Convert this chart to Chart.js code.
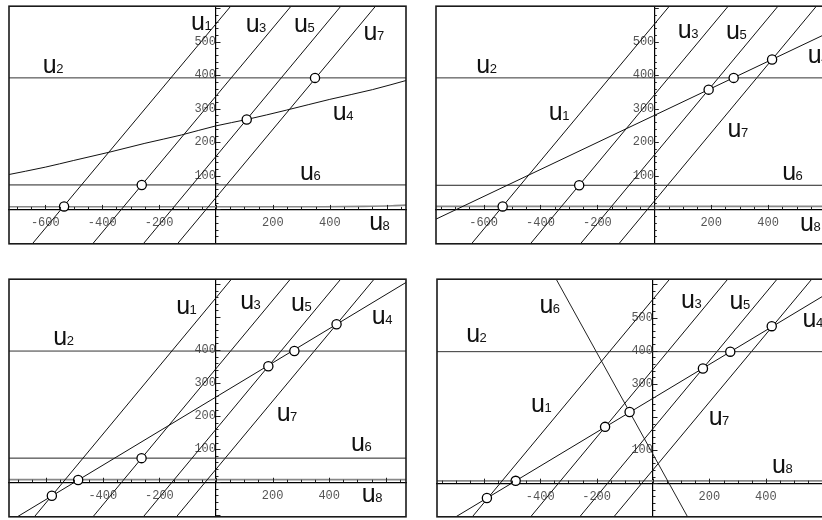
<!DOCTYPE html>
<html>
<head>
<meta charset="utf-8">
<script src="https://cdn.jsdelivr.net/npm/chart.js@4.4.1/dist/chart.umd.min.js"></script>
<style>
  html, body { margin: 0; padding: 0; background: #fff; width: 822px; height: 520px; overflow: hidden; position: relative; }
  canvas { position: absolute; }
</style>
</head>
<body>
<canvas id="pTL" width="417" height="260" style="left:-1px;top:-5px"></canvas>
<canvas id="pTR" width="417" height="260" style="left:426px;top:-5px"></canvas>
<canvas id="pBL" width="417" height="260" style="left:-1px;top:268px"></canvas>
<canvas id="pBR" width="417" height="260" style="left:427px;top:268px"></canvas>
<script>
// ---- top-left panel: (u8, u_i) lines, u4 slightly curved ----
const tl_u1 = [[-653, -110], [56, 610]];
const tl_u2 = [[-800, 392], [800, 392]];
const tl_u3 = [[-441, -110], [268, 610]];
const tl_u4 = [[-740, 102], [-600, 126], [-500, 146], [-373, 171], [-250, 197], [-121, 222], [0, 249], [108, 268], [248, 296], [400, 328], [550, 357], [680, 387]];
const tl_u5 = [[-263, -110], [443, 610]];
const tl_u6 = [[-800, 73], [800, 73]];
const tl_u7 = [[-143, -110], [565, 610]];
const tl_u8 = [[-800, 8], [380, 8], [520, 9], [620, 11], [700, 14]];
const tl_nodes = [[-534, 9], [-261, 73], [108, 268], [348, 392]];
const tl_xTickLabels = [-600, -400, -200, 200, 400];
const tl_yTickLabels = [100, 200, 300, 400, 500];

// ---- top-right panel ----
const tr_u1 = [[-650, -110], [57, 610]];
const tr_u2 = [[-800, 392], [800, 392]];
const tr_u3 = [[-443, -110], [264, 610]];
const tr_u4 = [[-775, -32], [650, 542]];
const tr_u5 = [[-267, -110], [439, 610]];
const tr_u6 = [[-800, 72], [800, 72]];
const tr_u7 = [[-132, -110], [574, 610]];
const tr_u8 = [[-800, 9], [800, 9]];
const tr_nodes = [[-533, 9], [-264, 72], [191, 357], [279, 392], [414, 447]];
const tr_xTickLabels = [-600, -400, -200, 200, 400];
const tr_yTickLabels = [100, 200, 300, 400, 500];

// ---- bottom-left panel ----
const bl_u1 = [[-652, -115], [60, 620]];
const bl_u2 = [[-800, 397], [800, 397]];
const bl_u3 = [[-445, -115], [268, 620]];
const bl_u4 = [[-740, -124], [680, 609]];
const bl_u5 = [[-267, -115], [446, 620]];
const bl_u6 = [[-800, 73], [800, 73]];
const bl_u7 = [[-150, -115], [564, 620]];
const bl_u8 = [[-800, 8], [800, 8]];
const bl_nodes = [[-580, -41], [-487, 7], [-263, 73], [185, 351], [277, 397], [426, 478]];
const bl_xTickLabels = [-400, -200, 200, 400];
const bl_yTickLabels = [100, 200, 300, 400];

// ---- bottom-right panel: u6 now falls steeply ----
const br_u1 = [[-649, -110], [63, 620]];
const br_u2 = [[-800, 397], [800, 397]];
const br_u3 = [[-442, -110], [269, 620]];
const br_u4 = [[-780, -143], [650, 589]];
const br_u5 = [[-268, -110], [444, 620]];
const br_u6 = [[-346, 620], [128, -110]];
const br_u7 = [[-147, -110], [567, 620]];
const br_u8 = [[-800, 7], [800, 7]];
const br_nodes = [[-589, -45], [-487, 7], [-170, 170], [-83, 215], [177, 346], [274, 397], [421, 474]];
const br_xTickLabels = [-400, -200, 200, 400];
const br_yTickLabels = [100, 300, 400, 500];

// where each variable name is written, in data units (left of "u", on its baseline)
const tl_nameSpots = [['1', -82, 534], ['3', 110, 530], ['5', 280, 530], ['7', 524, 504], ['2', -603, 408], ['4', 416, 266], ['6', 301, 89], ['8', 544, -61]];
const tr_nameSpots = [['3', 88, 510], ['5', 258, 507], ['4', 545, 435], ['2', -620, 406], ['1', -365, 266], ['7', 263, 217], ['6', 455, 89], ['8', 518, -63]];
const bl_nameSpots = [['1', -135, 508], ['3', 91, 523], ['5', 271, 518], ['4', 556, 478], ['2', -569, 416], ['7', 220, 184], ['6', 483, 96], ['8', 521, -61]];
const br_nameSpots = [['6', -397, 515], ['3', 105, 530], ['5', 277, 525], ['4', 536, 470], ['2', -657, 425], ['1', -427, 216], ['7', 203, 176], ['8', 428, 32]];

const toXY = pts => pts.map(([x, y]) => ({x, y}));

// axis ticks, variable names and the surrounding frame
const panelDecor = {
  id: 'panelDecor',
  afterDraw(chart, args, opts) {
    const {ctx, chartArea: a} = chart;
    const xs = chart.scales.x, ys = chart.scales.y;
    const x0 = xs.getPixelForValue(0), y0 = ys.getPixelForValue(0);
    ctx.save();
    ctx.beginPath();
    ctx.rect(a.left, a.top, a.width, a.height);
    ctx.clip();
    ctx.strokeStyle = '#222';
    ctx.lineWidth = 1;
    ctx.beginPath();
    for (const t of xs.ticks) {
      const v = t.value;
      if (v % 50 !== 0) continue;
      const len = v % 200 === 0 ? 4.5 : 2.5;
      const px = Math.round(xs.getPixelForValue(v)) + 0.5;
      ctx.moveTo(px, y0);
      ctx.lineTo(px, y0 - len);
    }
    for (const t of ys.ticks) {
      const v = t.value;
      if (v % 20 !== 0) continue;
      const len = v % 100 === 0 ? 4.5 : 2.5;
      const py = Math.round(ys.getPixelForValue(v)) + 0.5;
      ctx.moveTo(x0, py);
      ctx.lineTo(x0 + len, py);
    }
    ctx.stroke();

    ctx.fillStyle = '#111';
    ctx.textBaseline = 'alphabetic';
    for (const [sub, vx, vy] of opts.names) {
      const px = xs.getPixelForValue(vx) - 1.6;
      const py = ys.getPixelForValue(vy);
      ctx.font = '25px "Liberation Sans", Arial, sans-serif';
      ctx.fillText('u', px, py);
      const w = ctx.measureText('u').width;
      ctx.font = '13px "Liberation Sans", Arial, sans-serif';
      ctx.fillText(sub, px + w - 0.5, py);
    }
    ctx.restore();

    ctx.save();
    ctx.strokeStyle = '#1a1a1a';
    ctx.lineWidth = 1.6;
    ctx.strokeRect(a.left, a.top, a.width, a.height);
    ctx.restore();
  }
};

function lineSet(pts, color, width, curved) {
  return {
    data: toXY(pts), showLine: true, pointRadius: 0, pointHoverRadius: 0,
    borderColor: color, borderWidth: width, fill: false,
    tension: curved ? 0.4 : 0, cubicInterpolationMode: curved ? 'monotone' : 'default', order: 2
  };
}

function tickFont() { return {family: '"Liberation Mono", "DejaVu Sans Mono", monospace', size: 12}; }

function buildPanel(id, p) {
  const datasets = [
    {data: toXY(p.nodes), showLine: false, pointRadius: 4.6, pointHoverRadius: 4.6,
     pointBackgroundColor: '#fff', pointBorderColor: '#000', pointBorderWidth: 1.3, order: 0},
    lineSet(p.u1, '#111', 1, false),
    lineSet(p.u2, '#333', 1, false),
    lineSet(p.u3, '#111', 1, false),
    lineSet(p.u4, '#111', 1, p.u4.length > 2),
    lineSet(p.u5, '#111', 1, false),
    lineSet(p.u6, '#222', 1, false),
    lineSet(p.u7, '#111', 1, false),
    lineSet(p.u8, '#888', 1.6, p.u8.length > 2)
  ];
  return new Chart(document.getElementById(id), {
    type: 'scatter',
    data: {datasets},
    plugins: [panelDecor],
    options: {
      responsive: false, animation: false, devicePixelRatio: 1,
      layout: {padding: 10},
      events: [],
      plugins: {legend: {display: false}, tooltip: {enabled: false}, panelDecor: {names: p.names}},
      scales: {
        x: {
          type: 'linear', min: p.xr[0], max: p.xr[1], position: {y: 0},
          grid: {display: true, drawOnChartArea: false, drawTicks: false},
          border: {display: true, color: '#000', width: 1.2},
          ticks: {stepSize: 50, autoSkip: false, maxRotation: 0, includeBounds: false, padding: 6,
                  color: '#555', font: tickFont(),
                  callback: v => p.xl.includes(v) ? String(v) : ''}
        },
        y: {
          type: 'linear', min: p.yr[0], max: p.yr[1], position: {x: 0},
          grid: {display: true, drawOnChartArea: false, drawTicks: false},
          border: {display: true, color: '#000', width: 1.2},
          ticks: {stepSize: 20, autoSkip: false, includeBounds: false, padding: 4,
                  color: '#555', font: tickFont(),
                  callback: v => p.yl.includes(v) ? String(v) : ''}
        }
      }
    }
  });
}

buildPanel('pTL', {u1: tl_u1, u2: tl_u2, u3: tl_u3, u4: tl_u4, u5: tl_u5, u6: tl_u6, u7: tl_u7, u8: tl_u8,
  nodes: tl_nodes, xl: tl_xTickLabels, yl: tl_yTickLabels, names: tl_nameSpots, xr: [-727.6, 667.8], yr: [-102.4, 605.6]});
buildPanel('pTR', {u1: tr_u1, u2: tr_u2, u3: tr_u3, u4: tr_u4, u5: tr_u5, u6: tr_u6, u7: tr_u7, u8: tr_u8,
  nodes: tr_nodes, xl: tr_xTickLabels, yl: tr_yTickLabels, names: tr_nameSpots, xr: [-767.3, 628.1], yr: [-102.4, 605.6]});
buildPanel('pBL', {u1: bl_u1, u2: bl_u2, u3: bl_u3, u4: bl_u4, u5: bl_u5, u6: bl_u6, u7: bl_u7, u8: bl_u8,
  nodes: bl_nodes, xl: bl_xTickLabels, yl: bl_yTickLabels, names: bl_nameSpots, xr: [-731.4, 671.4], yr: [-104.5, 614.4]});
buildPanel('pBR', {u1: br_u1, u2: br_u2, u3: br_u3, u4: br_u4, u5: br_u5, u6: br_u6, u7: br_u7, u8: br_u8,
  nodes: br_nodes, xl: br_xTickLabels, yl: br_yTickLabels, names: br_nameSpots, xr: [-766, 641.8], yr: [-101.6, 615.8]});
</script>
</body>
</html>
